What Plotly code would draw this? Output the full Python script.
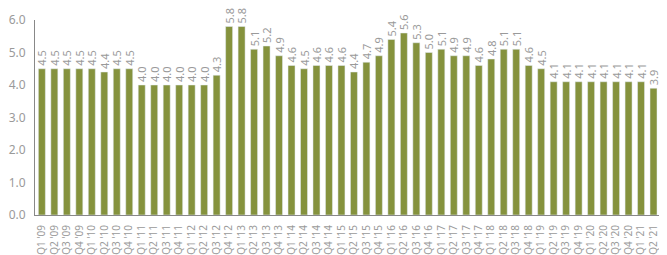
import plotly.graph_objects as go

quarters = []
for yr in range(9, 22):
    for q in range(1, 5):
        quarters.append(f"Q{q} '{yr:02d}")
quarters = quarters[:51]

values = [4.5, 4.5, 4.5, 4.5,
          4.5, 4.4, 4.5, 4.5,
          4.0, 4.0, 4.0, 4.0,
          4.0, 4.0, 4.3, 5.8,
          5.8, 5.1, 5.2, 4.9,
          4.6, 4.5, 4.6, 4.6,
          4.6, 4.4, 4.7, 4.9,
          5.4, 5.6, 5.3, 5.0,
          5.1, 4.9, 4.9, 4.6,
          4.8, 5.1, 5.1, 4.6,
          4.5, 4.1, 4.1, 4.1,
          4.1, 4.1, 4.1, 4.1,
          4.1, 3.9, 3.8]

ytickvals = [0, 1, 2, 3, 4, 5, 6]
yticktext = ["0.0", "1.0", "2.0", "3.0", "4.0", "5.0", "6.0"]

BAR_COLOR = "#85923D"
TEXT_FONT = dict(size=11, color="#9A9A9A", family="Noto Sans")

idx = list(range(len(values)))
labels = [f"{v:.1f}" for v in values]

fig = go.Figure()
# all bars but the last: labels may rise above the plot area
fig.add_trace(go.Bar(
    x=idx[:-1], y=values[:-1], text=labels[:-1],
    marker_color=BAR_COLOR, textposition="outside", textangle=-90,
    textfont=TEXT_FONT, cliponaxis=False,
))
# last bar is cut by the right edge of the chart
fig.add_trace(go.Bar(
    x=idx[-1:], y=values[-1:], text=labels[-1:],
    marker_color=BAR_COLOR, textposition="outside", textangle=-90,
    textfont=TEXT_FONT, cliponaxis=True,
))

# page body has an 8px margin: figure origin sits at (8, 8) in the window
fig.update_layout(
    width=659, height=247,
    margin=dict(l=27, r=0, t=12, b=40, autoexpand=False),
    plot_bgcolor="white", paper_bgcolor="white",
    barmode="overlay",
    bargap=0.44,
    showlegend=False,
    font=dict(family="Noto Sans", color="#9A9A9A"),
    uniformtext=dict(minsize=8, mode="show"),
)
fig.update_xaxes(
    range=[-0.55, 50.08],
    tickmode="array",
    tickvals=idx,
    ticktext=quarters,
    tickangle=-90,
    tickfont=dict(size=10, color="#9A9A9A"),
    showline=True, linecolor="#888888", linewidth=1,
    showgrid=False, ticks="", zeroline=False, automargin=False,
    ticklabelstandoff=5,
)
fig.update_yaxes(
    range=[0, 6],
    tickvals=ytickvals,
    ticktext=yticktext,
    tickfont=dict(size=12, color="#9A9A9A"),
    showline=True, linecolor="#888888", linewidth=1,
    showgrid=False, zeroline=False, ticks="", automargin=False,
    ticklabelstandoff=6,
)

fig.write_html("out.html")
